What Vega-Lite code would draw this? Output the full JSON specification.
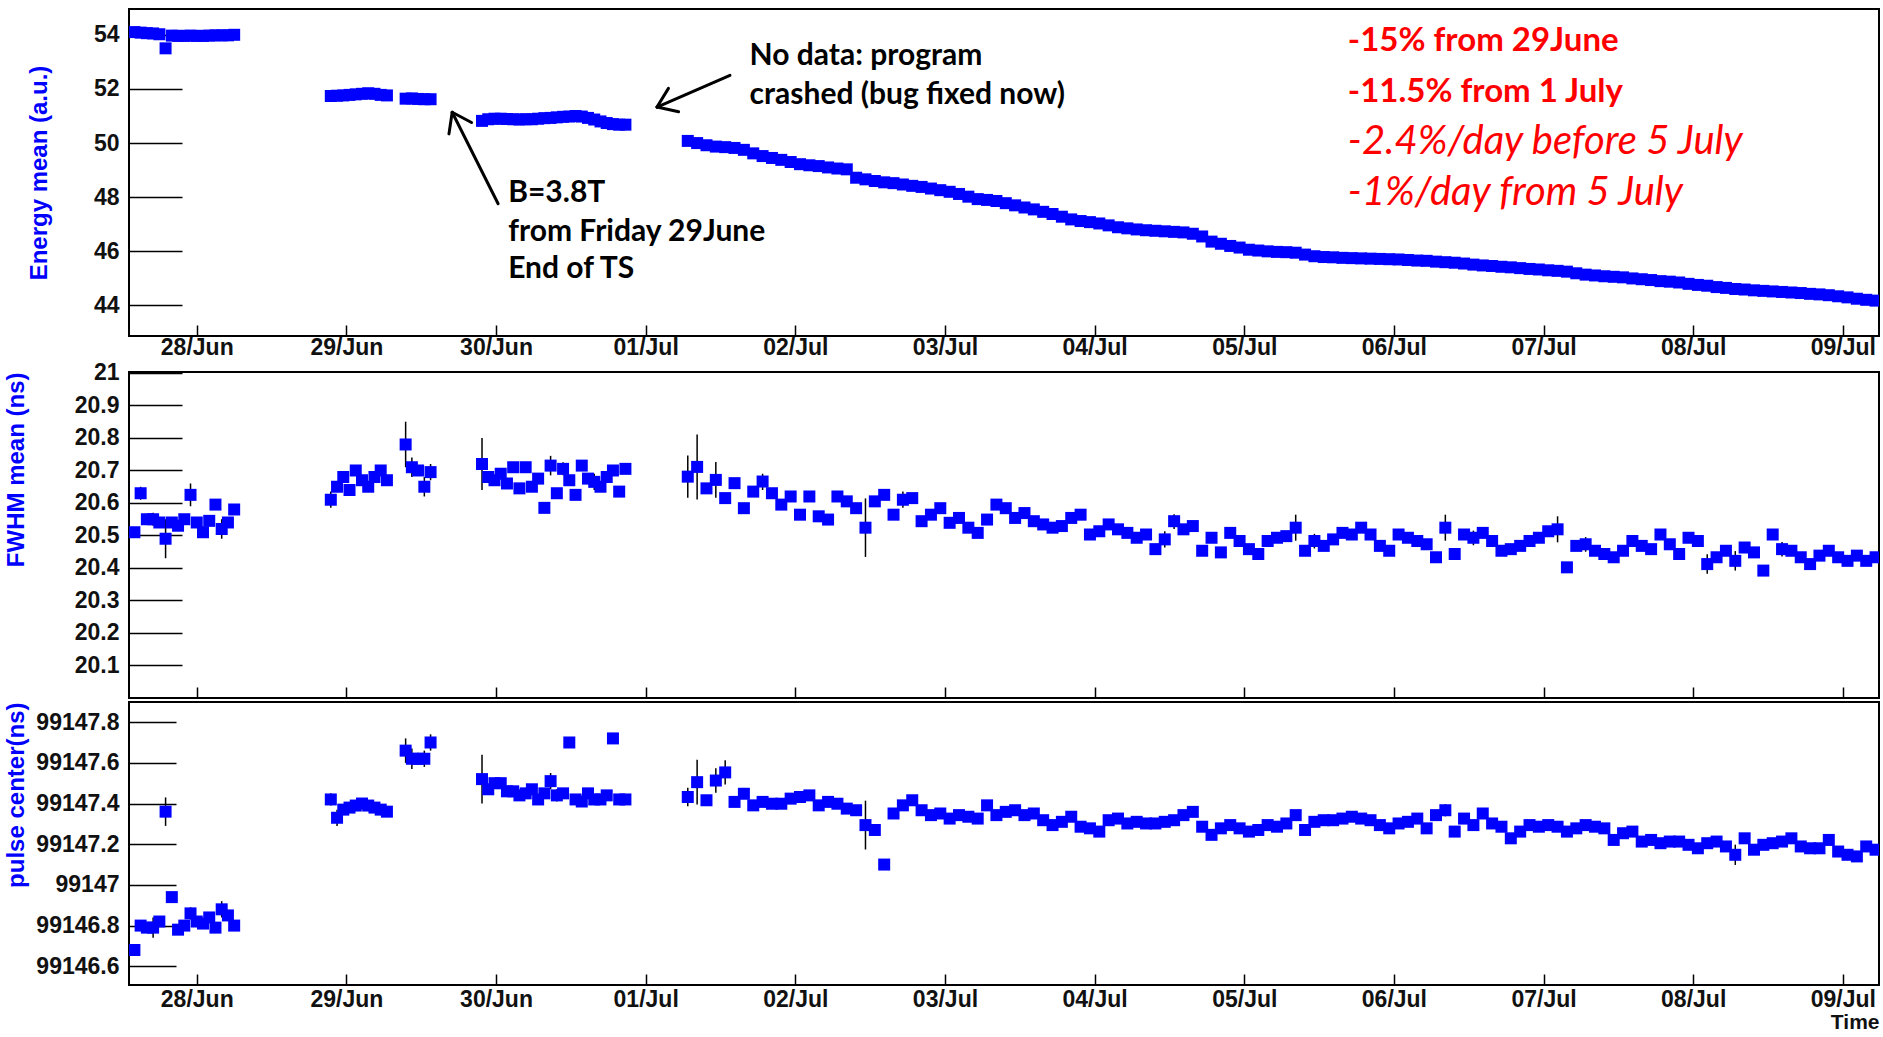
{
"$schema": "https://vega.github.io/schema/vega-lite/v6.json",
"background": "white",
"padding": {"left": 3, "top": 8, "right": 0, "bottom": 0},
"spacing": 0,
"config": {
  "view": {"stroke": "#000", "strokeWidth": 2},
  "axis": {"grid": false, "domain": false, "tickColor": "#000", "tickWidth": 1.5, "labelFont": "Liberation Sans", "labelFontSize": 23, "labelFontWeight": "bold", "labelColor": "#111", "titleFont": "Liberation Sans", "titleFontWeight": "bold"}
},
"datasets": {
"fErr": [
{"t":"2012-06-27T15:00","lo":20.61,"hi":20.65},
{"t":"2012-06-27T17:00","lo":20.53,"hi":20.57},
{"t":"2012-06-27T19:00","lo":20.43,"hi":20.55},
{"t":"2012-06-27T23:00","lo":20.59,"hi":20.66},
{"t":"2012-06-28T04:00","lo":20.49,"hi":20.55},
{"t":"2012-06-28T21:30","lo":20.585,"hi":20.635},
{"t":"2012-06-29T09:30","lo":20.71,"hi":20.85},
{"t":"2012-06-29T10:30","lo":20.68,"hi":20.74},
{"t":"2012-06-29T12:30","lo":20.62,"hi":20.68},
{"t":"2012-06-29T13:30","lo":20.67,"hi":20.72},
{"t":"2012-06-29T21:45","lo":20.64,"hi":20.80},
{"t":"2012-06-30T08:45","lo":20.685,"hi":20.745},
{"t":"2012-06-30T10:45","lo":20.685,"hi":20.725},
{"t":"2012-06-30T15:45","lo":20.64,"hi":20.69},
{"t":"2012-07-01T06:45","lo":20.616,"hi":20.746},
{"t":"2012-07-01T08:15","lo":20.611,"hi":20.811},
{"t":"2012-07-01T11:15","lo":20.616,"hi":20.726},
{"t":"2012-07-01T18:45","lo":20.64,"hi":20.69},
{"t":"2012-07-02T11:15","lo":20.434,"hi":20.614},
{"t":"2012-07-02T17:15","lo":20.585,"hi":20.635},
{"t":"2012-07-04T11:15","lo":20.463,"hi":20.513},
{"t":"2012-07-04T12:45","lo":20.52,"hi":20.565},
{"t":"2012-07-05T08:15","lo":20.484,"hi":20.564},
{"t":"2012-07-05T11:15","lo":20.46,"hi":20.505},
{"t":"2012-07-06T08:15","lo":20.484,"hi":20.564},
{"t":"2012-07-06T12:45","lo":20.47,"hi":20.515},
{"t":"2012-07-07T02:15","lo":20.479,"hi":20.559},
{"t":"2012-07-07T06:45","lo":20.45,"hi":20.495},
{"t":"2012-07-08T02:15","lo":20.382,"hi":20.442},
{"t":"2012-07-08T06:45","lo":20.392,"hi":20.452},
{"t":"2012-07-08T14:15","lo":20.435,"hi":20.48}
],
"pErr": [
{"t":"2012-06-27T17:00","lo":99146.74,"hi":99146.84},
{"t":"2012-06-27T19:00","lo":99147.29,"hi":99147.43},
{"t":"2012-06-27T23:00","lo":99146.83,"hi":99146.89},
{"t":"2012-06-28T04:00","lo":99146.84,"hi":99146.92},
{"t":"2012-06-28T21:30","lo":99147.39,"hi":99147.45},
{"t":"2012-06-28T22:30","lo":99147.29,"hi":99147.37},
{"t":"2012-06-29T09:30","lo":99147.60,"hi":99147.72},
{"t":"2012-06-29T10:30","lo":99147.57,"hi":99147.67},
{"t":"2012-06-29T11:30","lo":99147.59,"hi":99147.65},
{"t":"2012-06-29T12:30","lo":99147.58,"hi":99147.66},
{"t":"2012-06-29T13:30","lo":99147.66,"hi":99147.74},
{"t":"2012-06-29T21:45","lo":99147.40,"hi":99147.64},
{"t":"2012-06-30T08:45","lo":99147.47,"hi":99147.55},
{"t":"2012-06-30T09:45","lo":99147.41,"hi":99147.47},
{"t":"2012-07-01T06:45","lo":99147.387,"hi":99147.477},
{"t":"2012-07-01T08:15","lo":99147.395,"hi":99147.615},
{"t":"2012-07-01T11:15","lo":99147.453,"hi":99147.573},
{"t":"2012-07-01T12:45","lo":99147.493,"hi":99147.613},
{"t":"2012-07-02T11:15","lo":99147.174,"hi":99147.414},
{"t":"2012-07-06T08:15","lo":99147.337,"hi":99147.397},
{"t":"2012-07-08T06:45","lo":99147.098,"hi":99147.198}
],
"d": [
{"t":"2012-06-27T14:00","e":54.10,"f":20.51,"p":99146.68},
{"t":"2012-06-27T15:00","e":54.08,"f":20.63,"p":99146.80},
{"t":"2012-06-27T16:00","e":54.06,"f":20.55,"p":99146.79},
{"t":"2012-06-27T17:00","e":54.05,"f":20.55,"p":99146.79},
{"t":"2012-06-27T18:00","e":54.02,"f":20.54,"p":99146.82},
{"t":"2012-06-27T19:00","e":53.50,"f":20.49,"p":99147.36},
{"t":"2012-06-27T20:00","e":53.97,"f":20.54,"p":99146.94},
{"t":"2012-06-27T21:00","e":53.96,"f":20.53,"p":99146.78},
{"t":"2012-06-27T22:00","e":53.96,"f":20.55,"p":99146.80},
{"t":"2012-06-27T23:00","e":53.97,"f":20.625,"p":99146.86},
{"t":"2012-06-28T00:00","e":53.96,"f":20.54,"p":99146.82},
{"t":"2012-06-28T01:00","e":53.96,"f":20.51,"p":99146.81},
{"t":"2012-06-28T02:00","e":53.97,"f":20.545,"p":99146.84},
{"t":"2012-06-28T03:00","e":53.98,"f":20.595,"p":99146.79},
{"t":"2012-06-28T04:00","e":53.98,"f":20.52,"p":99146.88},
{"t":"2012-06-28T05:00","e":53.98,"f":20.54,"p":99146.85},
{"t":"2012-06-28T06:00","e":54.00,"f":20.58,"p":99146.80},
{"t":"2012-06-28T21:30","e":51.74,"f":20.61,"p":99147.42},
{"t":"2012-06-28T22:30","e":51.75,"f":20.65,"p":99147.33},
{"t":"2012-06-28T23:30","e":51.76,"f":20.68,"p":99147.37},
{"t":"2012-06-29T00:30","e":51.78,"f":20.64,"p":99147.38},
{"t":"2012-06-29T01:30","e":51.80,"f":20.70,"p":99147.39},
{"t":"2012-06-29T02:30","e":51.82,"f":20.67,"p":99147.40},
{"t":"2012-06-29T03:30","e":51.84,"f":20.65,"p":99147.39},
{"t":"2012-06-29T04:30","e":51.82,"f":20.68,"p":99147.38},
{"t":"2012-06-29T05:30","e":51.78,"f":20.70,"p":99147.37},
{"t":"2012-06-29T06:30","e":51.76,"f":20.67,"p":99147.36},
{"t":"2012-06-29T09:30","e":51.64,"f":20.78,"p":99147.66},
{"t":"2012-06-29T10:30","e":51.65,"f":20.71,"p":99147.62},
{"t":"2012-06-29T11:30","e":51.63,"f":20.70,"p":99147.62},
{"t":"2012-06-29T12:30","e":51.62,"f":20.65,"p":99147.62},
{"t":"2012-06-29T13:30","e":51.62,"f":20.695,"p":99147.70},
{"t":"2012-06-29T21:45","e":50.82,"f":20.72,"p":99147.52},
{"t":"2012-06-29T22:45","e":50.88,"f":20.68,"p":99147.47},
{"t":"2012-06-29T23:45","e":50.90,"f":20.67,"p":99147.50},
{"t":"2012-06-30T00:45","e":50.90,"f":20.69,"p":99147.50},
{"t":"2012-06-30T01:45","e":50.89,"f":20.66,"p":99147.46},
{"t":"2012-06-30T02:45","e":50.88,"f":20.71,"p":99147.46},
{"t":"2012-06-30T03:45","e":50.87,"f":20.645,"p":99147.44},
{"t":"2012-06-30T04:45","e":50.88,"f":20.71,"p":99147.45},
{"t":"2012-06-30T05:45","e":50.88,"f":20.65,"p":99147.47},
{"t":"2012-06-30T06:45","e":50.90,"f":20.675,"p":99147.42},
{"t":"2012-06-30T07:45","e":50.92,"f":20.585,"p":99147.45},
{"t":"2012-06-30T08:45","e":50.93,"f":20.715,"p":99147.51},
{"t":"2012-06-30T09:45","e":50.95,"f":20.63,"p":99147.44},
{"t":"2012-06-30T10:45","e":50.97,"f":20.705,"p":99147.45},
{"t":"2012-06-30T11:45","e":50.98,"f":20.67,"p":99147.70},
{"t":"2012-06-30T12:45","e":51.00,"f":20.625,"p":99147.42},
{"t":"2012-06-30T13:45","e":50.98,"f":20.715,"p":99147.41},
{"t":"2012-06-30T14:45","e":50.93,"f":20.675,"p":99147.45},
{"t":"2012-06-30T15:45","e":50.87,"f":20.665,"p":99147.42},
{"t":"2012-06-30T16:45","e":50.80,"f":20.65,"p":99147.42},
{"t":"2012-06-30T17:45","e":50.74,"f":20.68,"p":99147.44},
{"t":"2012-06-30T18:45","e":50.70,"f":20.70,"p":99147.72},
{"t":"2012-06-30T19:45","e":50.68,"f":20.635,"p":99147.42},
{"t":"2012-06-30T20:45","e":50.68,"f":20.705,"p":99147.42},
{"t":"2012-07-01T06:45","e":50.08,"f":20.681,"p":99147.432},
{"t":"2012-07-01T08:15","e":50.00,"f":20.711,"p":99147.505},
{"t":"2012-07-01T09:45","e":49.92,"f":20.645,"p":99147.416},
{"t":"2012-07-01T11:15","e":49.87,"f":20.671,"p":99147.513},
{"t":"2012-07-01T12:45","e":49.85,"f":20.615,"p":99147.553},
{"t":"2012-07-01T14:15","e":49.82,"f":20.661,"p":99147.408},
{"t":"2012-07-01T15:45","e":49.75,"f":20.584,"p":99147.448},
{"t":"2012-07-01T17:15","e":49.62,"f":20.635,"p":99147.391},
{"t":"2012-07-01T18:45","e":49.52,"f":20.666,"p":99147.408},
{"t":"2012-07-01T20:15","e":49.45,"f":20.630,"p":99147.399},
{"t":"2012-07-01T21:45","e":49.38,"f":20.595,"p":99147.399},
{"t":"2012-07-01T23:15","e":49.30,"f":20.620,"p":99147.424},
{"t":"2012-07-02T00:45","e":49.22,"f":20.564,"p":99147.432},
{"t":"2012-07-02T02:15","e":49.18,"f":20.620,"p":99147.440},
{"t":"2012-07-02T03:45","e":49.15,"f":20.559,"p":99147.391},
{"t":"2012-07-02T05:15","e":49.10,"f":20.549,"p":99147.408},
{"t":"2012-07-02T06:45","e":49.06,"f":20.620,"p":99147.399},
{"t":"2012-07-02T08:15","e":49.03,"f":20.605,"p":99147.375},
{"t":"2012-07-02T09:45","e":48.72,"f":20.584,"p":99147.367},
{"t":"2012-07-02T11:15","e":48.66,"f":20.524,"p":99147.294},
{"t":"2012-07-02T12:45","e":48.60,"f":20.605,"p":99147.270},
{"t":"2012-07-02T14:15","e":48.55,"f":20.625,"p":99147.100},
{"t":"2012-07-02T15:45","e":48.52,"f":20.564,"p":99147.351},
{"t":"2012-07-02T17:15","e":48.47,"f":20.610,"p":99147.391},
{"t":"2012-07-02T18:45","e":48.42,"f":20.615,"p":99147.416},
{"t":"2012-07-02T20:15","e":48.38,"f":20.544,"p":99147.367},
{"t":"2012-07-02T21:45","e":48.32,"f":20.564,"p":99147.343},
{"t":"2012-07-02T23:15","e":48.26,"f":20.584,"p":99147.351},
{"t":"2012-07-03T00:45","e":48.20,"f":20.539,"p":99147.326},
{"t":"2012-07-03T02:15","e":48.12,"f":20.554,"p":99147.343},
{"t":"2012-07-03T03:45","e":48.02,"f":20.524,"p":99147.335},
{"t":"2012-07-03T05:15","e":47.93,"f":20.508,"p":99147.326},
{"t":"2012-07-03T06:45","e":47.90,"f":20.549,"p":99147.391},
{"t":"2012-07-03T08:15","e":47.86,"f":20.595,"p":99147.343},
{"t":"2012-07-03T09:45","e":47.78,"f":20.584,"p":99147.359},
{"t":"2012-07-03T11:15","e":47.70,"f":20.554,"p":99147.367},
{"t":"2012-07-03T12:45","e":47.62,"f":20.569,"p":99147.343},
{"t":"2012-07-03T14:15","e":47.55,"f":20.544,"p":99147.351},
{"t":"2012-07-03T15:45","e":47.46,"f":20.534,"p":99147.318},
{"t":"2012-07-03T17:15","e":47.38,"f":20.524,"p":99147.294},
{"t":"2012-07-03T18:45","e":47.28,"f":20.529,"p":99147.310},
{"t":"2012-07-03T20:15","e":47.18,"f":20.554,"p":99147.335},
{"t":"2012-07-03T21:45","e":47.12,"f":20.564,"p":99147.286},
{"t":"2012-07-03T23:15","e":47.08,"f":20.503,"p":99147.278},
{"t":"2012-07-04T00:45","e":47.03,"f":20.513,"p":99147.262},
{"t":"2012-07-04T02:15","e":46.96,"f":20.534,"p":99147.318},
{"t":"2012-07-04T03:45","e":46.89,"f":20.519,"p":99147.326},
{"t":"2012-07-04T05:15","e":46.85,"f":20.508,"p":99147.302},
{"t":"2012-07-04T06:45","e":46.81,"f":20.493,"p":99147.310},
{"t":"2012-07-04T08:15","e":46.78,"f":20.503,"p":99147.302},
{"t":"2012-07-04T09:45","e":46.76,"f":20.458,"p":99147.302},
{"t":"2012-07-04T11:15","e":46.74,"f":20.488,"p":99147.310},
{"t":"2012-07-04T12:45","e":46.72,"f":20.544,"p":99147.318},
{"t":"2012-07-04T14:15","e":46.70,"f":20.519,"p":99147.343},
{"t":"2012-07-04T15:45","e":46.65,"f":20.529,"p":99147.359},
{"t":"2012-07-04T17:15","e":46.55,"f":20.453,"p":99147.286},
{"t":"2012-07-04T18:45","e":46.36,"f":20.493,"p":99147.246},
{"t":"2012-07-04T20:15","e":46.28,"f":20.448,"p":99147.278},
{"t":"2012-07-04T21:45","e":46.20,"f":20.508,"p":99147.294},
{"t":"2012-07-04T23:15","e":46.14,"f":20.483,"p":99147.278},
{"t":"2012-07-05T00:45","e":46.06,"f":20.458,"p":99147.262},
{"t":"2012-07-05T02:15","e":46.03,"f":20.443,"p":99147.270},
{"t":"2012-07-05T03:45","e":46.00,"f":20.483,"p":99147.294},
{"t":"2012-07-05T05:15","e":45.98,"f":20.493,"p":99147.286},
{"t":"2012-07-05T06:45","e":45.97,"f":20.498,"p":99147.302},
{"t":"2012-07-05T08:15","e":45.95,"f":20.524,"p":99147.343},
{"t":"2012-07-05T09:45","e":45.88,"f":20.453,"p":99147.270},
{"t":"2012-07-05T11:15","e":45.82,"f":20.483,"p":99147.310},
{"t":"2012-07-05T12:45","e":45.79,"f":20.468,"p":99147.318},
{"t":"2012-07-05T14:15","e":45.78,"f":20.488,"p":99147.318},
{"t":"2012-07-05T15:45","e":45.76,"f":20.508,"p":99147.326},
{"t":"2012-07-05T17:15","e":45.75,"f":20.503,"p":99147.335},
{"t":"2012-07-05T18:45","e":45.74,"f":20.524,"p":99147.326},
{"t":"2012-07-05T20:15","e":45.73,"f":20.503,"p":99147.318},
{"t":"2012-07-05T21:45","e":45.72,"f":20.468,"p":99147.294},
{"t":"2012-07-05T23:15","e":45.71,"f":20.453,"p":99147.278},
{"t":"2012-07-06T00:45","e":45.70,"f":20.503,"p":99147.302},
{"t":"2012-07-06T02:15","e":45.68,"f":20.493,"p":99147.310},
{"t":"2012-07-06T03:45","e":45.66,"f":20.483,"p":99147.326},
{"t":"2012-07-06T05:15","e":45.65,"f":20.473,"p":99147.278},
{"t":"2012-07-06T06:45","e":45.62,"f":20.433,"p":99147.343},
{"t":"2012-07-06T08:15","e":45.60,"f":20.524,"p":99147.367},
{"t":"2012-07-06T09:45","e":45.58,"f":20.443,"p":99147.262},
{"t":"2012-07-06T11:15","e":45.55,"f":20.503,"p":99147.326},
{"t":"2012-07-06T12:45","e":45.51,"f":20.493,"p":99147.294},
{"t":"2012-07-06T14:15","e":45.48,"f":20.508,"p":99147.351},
{"t":"2012-07-06T15:45","e":45.46,"f":20.483,"p":99147.302},
{"t":"2012-07-06T17:15","e":45.43,"f":20.453,"p":99147.286},
{"t":"2012-07-06T18:45","e":45.41,"f":20.458,"p":99147.229},
{"t":"2012-07-06T20:15","e":45.38,"f":20.468,"p":99147.262},
{"t":"2012-07-06T21:45","e":45.35,"f":20.483,"p":99147.294},
{"t":"2012-07-06T23:15","e":45.33,"f":20.493,"p":99147.286},
{"t":"2012-07-07T00:45","e":45.30,"f":20.513,"p":99147.294},
{"t":"2012-07-07T02:15","e":45.28,"f":20.519,"p":99147.286},
{"t":"2012-07-07T03:45","e":45.25,"f":20.402,"p":99147.262},
{"t":"2012-07-07T05:15","e":45.19,"f":20.468,"p":99147.278},
{"t":"2012-07-07T06:45","e":45.14,"f":20.473,"p":99147.294},
{"t":"2012-07-07T08:15","e":45.11,"f":20.453,"p":99147.286},
{"t":"2012-07-07T09:45","e":45.08,"f":20.443,"p":99147.278},
{"t":"2012-07-07T11:15","e":45.06,"f":20.433,"p":99147.221},
{"t":"2012-07-07T12:45","e":45.04,"f":20.453,"p":99147.254},
{"t":"2012-07-07T14:15","e":45.00,"f":20.483,"p":99147.262},
{"t":"2012-07-07T15:45","e":44.97,"f":20.468,"p":99147.213},
{"t":"2012-07-07T17:15","e":44.94,"f":20.458,"p":99147.221},
{"t":"2012-07-07T18:45","e":44.90,"f":20.503,"p":99147.205},
{"t":"2012-07-07T20:15","e":44.88,"f":20.473,"p":99147.213},
{"t":"2012-07-07T21:45","e":44.85,"f":20.443,"p":99147.213},
{"t":"2012-07-07T23:15","e":44.80,"f":20.493,"p":99147.197},
{"t":"2012-07-08T00:45","e":44.76,"f":20.483,"p":99147.180},
{"t":"2012-07-08T02:15","e":44.73,"f":20.412,"p":99147.205},
{"t":"2012-07-08T03:45","e":44.68,"f":20.433,"p":99147.213},
{"t":"2012-07-08T05:15","e":44.65,"f":20.453,"p":99147.189},
{"t":"2012-07-08T06:45","e":44.61,"f":20.422,"p":99147.148},
{"t":"2012-07-08T08:15","e":44.59,"f":20.463,"p":99147.229},
{"t":"2012-07-08T09:45","e":44.56,"f":20.448,"p":99147.173},
{"t":"2012-07-08T11:15","e":44.54,"f":20.392,"p":99147.197},
{"t":"2012-07-08T12:45","e":44.52,"f":20.503,"p":99147.205},
{"t":"2012-07-08T14:15","e":44.50,"f":20.458,"p":99147.213},
{"t":"2012-07-08T15:45","e":44.48,"f":20.453,"p":99147.229},
{"t":"2012-07-08T17:15","e":44.46,"f":20.433,"p":99147.189},
{"t":"2012-07-08T18:45","e":44.43,"f":20.412,"p":99147.180},
{"t":"2012-07-08T20:15","e":44.41,"f":20.438,"p":99147.180},
{"t":"2012-07-08T21:45","e":44.38,"f":20.453,"p":99147.221},
{"t":"2012-07-08T23:15","e":44.34,"f":20.433,"p":99147.164},
{"t":"2012-07-09T00:45","e":44.30,"f":20.422,"p":99147.148},
{"t":"2012-07-09T02:15","e":44.25,"f":20.438,"p":99147.140},
{"t":"2012-07-09T03:45","e":44.21,"f":20.422,"p":99147.189},
{"t":"2012-07-09T05:15","e":44.18,"f":20.433,"p":99147.173}
]
},
"vconcat": [
{
  "width": 1750, "height": 327,
  "layer": [
    {
      "data": {"name": "d"},
      "mark": {"type": "square", "size": 144, "color": "#0000ff", "opacity": 1, "clip": true},
      "encoding": {
        "x": {"field": "t", "type": "temporal",
          "scale": {"domain": [{"year": 2012, "month": 6, "date": 27, "hours": 13, "minutes": 8}, {"year": 2012, "month": 7, "date": 9, "hours": 5, "minutes": 48}]},
          "axis": {"title": null, "format": "%d/%b", "tickCount": 12, "offset": -11, "tickSize": 11, "labelPadding": 0}},
        "y": {"field": "e", "type": "quantitative",
          "scale": {"domain": [42.873, 54.953], "nice": false, "zero": false},
          "axis": {"title": "Energy mean (a.u.)", "titleColor": "#0000ff", "titleFontSize": 24, "titlePadding": 42,
            "values": [44, 46, 48, 50, 52, 54], "tickCount": 20, "format": "d", "offset": -53, "tickSize": 53, "labelPadding": 10}}
      }
    },
    {
      "data": {"values": [
        {"t": "2012-06-30T00:20", "e": 47.76, "t2": "2012-06-29T16:58", "e2": 51.14},
        {"t": "2012-06-29T16:58", "e": 51.14, "t2": "2012-06-29T16:27", "e2": 50.34},
        {"t": "2012-06-29T16:58", "e": 51.14, "t2": "2012-06-29T20:04", "e2": 50.76},
        {"t": "2012-07-01T13:31", "e": 52.50, "t2": "2012-07-01T01:49", "e2": 51.33},
        {"t": "2012-07-01T01:49", "e": 51.33, "t2": "2012-07-01T03:39", "e2": 52.02},
        {"t": "2012-07-01T01:49", "e": 51.33, "t2": "2012-07-01T05:17", "e2": 51.16}
      ], "format": {"parse": {"t": "date", "t2": "date"}}},
      "mark": {"type": "rule", "color": "#000", "strokeWidth": 3, "strokeCap": "round"},
      "encoding": {
        "x": {"field": "t", "type": "temporal"},
        "y": {"field": "e", "type": "quantitative"},
        "x2": {"field": "t2"},
        "y2": {"field": "e2"}
      }
    },
    {
      "data": {"values": [
        {"t": "2012-07-01T16:40", "e": 52.87, "txt": "No data: program"},
        {"t": "2012-07-01T16:40", "e": 51.45, "txt": "crashed (bug fixed now)"},
        {"t": "2012-06-30T01:57", "e": 47.82, "txt": "B=3.8T"},
        {"t": "2012-06-30T01:57", "e": 46.40, "txt": "from Friday 29June"},
        {"t": "2012-06-30T01:57", "e": 45.02, "txt": "End of TS"}
      ]},
      "mark": {"type": "text", "font": "Lato", "fontWeight": "bold", "fontSize": 30, "align": "left", "baseline": "alphabetic", "color": "#000"},
      "encoding": {"x": {"field": "t", "type": "temporal"}, "y": {"field": "e", "type": "quantitative"}, "text": {"field": "txt"}}
    },
    {
      "data": {"values": [
        {"t": "2012-07-05T16:37", "e": 53.39, "txt": "-15% from 29June"},
        {"t": "2012-07-05T16:37", "e": 51.51, "txt": "-11.5% from 1 July"}
      ]},
      "mark": {"type": "text", "font": "Lato", "fontWeight": "bold", "fontSize": 33, "align": "left", "baseline": "alphabetic", "color": "#ff0000"},
      "encoding": {"x": {"field": "t", "type": "temporal"}, "y": {"field": "e", "type": "quantitative"}, "text": {"field": "txt"}}
    },
    {
      "data": {"values": [
        {"t": "2012-07-05T16:37", "e": 49.60, "txt": "-2.4%/day before 5 July"},
        {"t": "2012-07-05T16:37", "e": 47.73, "txt": "-1%/day from 5 July"}
      ]},
      "mark": {"type": "text", "font": "Lato", "fontStyle": "italic", "fontWeight": "normal", "fontSize": 40, "align": "left", "baseline": "alphabetic", "color": "#ff0000"},
      "encoding": {"x": {"field": "t", "type": "temporal"}, "y": {"field": "e", "type": "quantitative"}, "text": {"field": "txt"}}
    }
  ]
},
{
  "width": 1750, "height": 326,
  "layer": [
    {
      "data": {"name": "fErr"},
      "mark": {"type": "rule", "color": "#000", "strokeWidth": 1.5},
      "encoding": {
        "x": {"field": "t", "type": "temporal",
          "scale": {"domain": [{"year": 2012, "month": 6, "date": 27, "hours": 13, "minutes": 8}, {"year": 2012, "month": 7, "date": 9, "hours": 5, "minutes": 48}]},
          "axis": {"title": null, "labels": false, "tickCount": 12, "offset": -11, "tickSize": 11}},
        "y": {"field": "lo", "type": "quantitative",
          "scale": {"domain": [20.0, 21.003], "nice": false, "zero": false},
          "axis": {"title": "FWHM mean (ns)", "titleColor": "#0000ff", "titleFontSize": 24, "titleAnchor": "end", "titlePadding": 46,
            "values": [20.1, 20.2, 20.3, 20.4, 20.5, 20.6, 20.7, 20.8, 20.9, 21], "tickCount": 20, "format": ".1~f", "offset": -53, "tickSize": 53, "labelPadding": 10}},
        "y2": {"field": "hi"}
      }
    },
    {
      "data": {"name": "d"},
      "mark": {"type": "square", "size": 144, "color": "#0000ff", "opacity": 1, "clip": true},
      "encoding": {
        "x": {"field": "t", "type": "temporal"},
        "y": {"field": "f", "type": "quantitative"}
      }
    }
  ]
},
{
  "width": 1750, "height": 283,
  "layer": [
    {
      "data": {"name": "pErr"},
      "mark": {"type": "rule", "color": "#000", "strokeWidth": 1.5},
      "encoding": {
        "x": {"field": "t", "type": "temporal",
          "scale": {"domain": [{"year": 2012, "month": 6, "date": 27, "hours": 13, "minutes": 8}, {"year": 2012, "month": 7, "date": 9, "hours": 5, "minutes": 48}]},
          "axis": {"title": "Time", "titleFontSize": 21, "titleColor": "#111", "titleAnchor": "end", "titlePadding": 0, "format": "%d/%b", "tickCount": 12, "offset": -11, "tickSize": 11, "labelPadding": 3}},
        "y": {"field": "lo", "type": "quantitative",
          "scale": {"domain": [99146.508, 99147.899], "nice": false, "zero": false},
          "axis": {"title": "pulse center(ns)", "titleColor": "#0000ff", "titleFontSize": 24, "titleAnchor": "end", "titlePadding": 7,
            "values": [99146.6, 99146.8, 99147, 99147.2, 99147.4, 99147.6, 99147.8], "tickCount": 20, "format": ".1~f", "offset": -47, "tickSize": 47, "labelPadding": 10}},
        "y2": {"field": "hi"}
      }
    },
    {
      "data": {"name": "d"},
      "mark": {"type": "square", "size": 144, "color": "#0000ff", "opacity": 1, "clip": true},
      "encoding": {
        "x": {"field": "t", "type": "temporal"},
        "y": {"field": "p", "type": "quantitative"}
      }
    }
  ]
}
]
}
